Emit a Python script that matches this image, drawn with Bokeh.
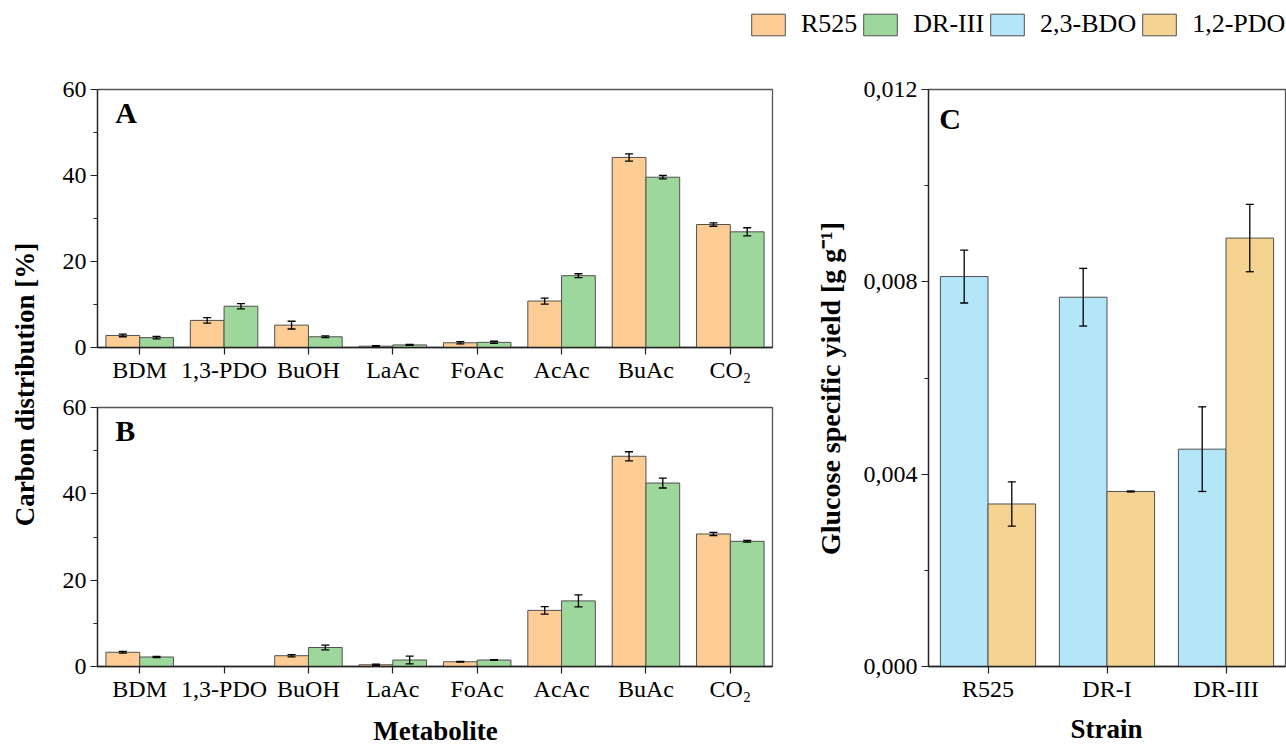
from math import pi
from bokeh.plotting import figure
from bokeh.layouts import row, column
from bokeh.models import (ColumnDataSource, Whisker, TeeHead, FixedTicker, SingleIntervalTicker,
                          CustomJSTickFormatter, Label, Legend, LegendItem, Range1d)
from bokeh.embed import file_html
from bokeh.resources import INLINE

# ---------------- data ----------------
metabolites = ["BDM", "1,3-PDO", "BuOH", "LaAc", "FoAc", "AcAc", "BuAc", "CO₂"]
series_ab = ["R525", "DR-III"]

a_r525 = [2.8, 6.3, 5.2, 0.3, 1.1, 10.8, 44.2, 28.6]
a_r525_err = [0.3, 0.65, 0.9, 0.15, 0.25, 0.7, 0.85, 0.4]
a_dr3 = [2.3, 9.6, 2.5, 0.6, 1.2, 16.7, 39.6, 26.9]
a_dr3_err = [0.3, 0.6, 0.2, 0.1, 0.25, 0.45, 0.4, 0.95]

b_r525 = [3.3, 0.0, 2.5, 0.4, 1.1, 13.0, 48.7, 30.7]
b_r525_err = [0.2, 0.0, 0.25, 0.15, 0.1, 0.85, 1.05, 0.35]
b_dr3 = [2.2, 0.0, 4.4, 1.5, 1.5, 15.2, 42.5, 29.0]
b_dr3_err = [0.15, 0.0, 0.55, 0.9, 0.1, 1.4, 1.15, 0.2]

strains = ["R525", "DR-I", "DR-III"]
series_c = ["2,3-BDO", "1,2-PDO"]
bdo = [0.00811, 0.00768, 0.00452]
bdo_err = [0.00055, 0.0006, 0.00088]
pdo = [0.00338, 0.00364, 0.00891]
pdo_err = [0.00046, 0.00001, 0.0007]

# ---------------- style ----------------
FONT = "Liberation Serif"
C_R525 = "#FECD96"
C_DR3 = "#9DD79C"
C_BDO = "#B4E6FA"
C_PDO = "#F5D491"
BAR_LINE = "#505050"
AX = "#222222"


def base_fig(**kw):
    p = figure(output_backend="svg", toolbar_location=None, **kw)
    p.grid.visible = False
    p.outline_line_color = "#555555"
    p.outline_line_width = 1.3
    p.background_fill_color = "white"
    p.border_fill_color = "white"
    return p


def blank_fig(w, h, yspan=None):
    p = figure(width=w, height=h, x_range=Range1d(0, w), y_range=Range1d(0, yspan or h),
               x_axis_type=None, y_axis_type=None, output_backend="svg",
               toolbar_location=None, min_border=0)
    p.grid.visible = False
    p.outline_line_color = None
    return p


def title_label(x, y, text, rotated=False, size="27px"):
    kw = dict(angle=pi / 2, text_align="center", text_baseline="middle") if rotated else \
        dict(text_align="center", text_baseline="alphabetic")
    return Label(x=x, y=y, text=text, text_font=FONT, text_font_size=size,
                 text_font_style="bold", text_color="black", **kw)


def style_axis(ax):
    ax.axis_line_color = AX
    ax.axis_line_width = 1.3
    ax.major_tick_line_color = AX
    ax.minor_tick_line_color = AX
    ax.major_tick_line_width = 1.2
    ax.minor_tick_line_width = 1.0
    ax.major_tick_out = 7
    ax.major_tick_in = 0
    ax.minor_tick_out = 4
    ax.minor_tick_in = 0
    ax.major_label_text_font = FONT
    ax.major_label_text_font_size = "24px"
    ax.major_label_text_color = "black"
    ax.major_label_standoff = 4


def add_bars(p, xs, vals, errs, offset, color):
    x = [v + offset for v in xs]
    src = ColumnDataSource(dict(x=x, top=vals))
    r = p.vbar(x="x", top="top", width=0.4, source=src, fill_color=color,
               line_color=BAR_LINE, line_width=1)
    keep = [i for i, v in enumerate(vals) if v > 0]
    wsrc = ColumnDataSource(dict(
        x=[x[i] for i in keep],
        upper=[vals[i] + errs[i] for i in keep],
        lower=[vals[i] - errs[i] for i in keep]))
    w = Whisker(source=wsrc, base="x", upper="upper", lower="lower", level="overlay",
                line_color="black", line_width=1.3,
                upper_head=TeeHead(size=8, line_color="black", line_width=1.3),
                lower_head=TeeHead(size=8, line_color="black", line_width=1.3))
    p.add_layout(w)
    return r


def metabolite_panel(letter, r525, r525_err, dr3, dr3_err, height, top, bottom):
    p = base_fig(width=752, height=height, x_range=Range1d(0.5, len(metabolites) + 0.5),
                 y_range=Range1d(0, 60), min_border_left=49, min_border_right=28,
                 min_border_top=top, min_border_bottom=bottom)
    xs = list(range(1, len(metabolites) + 1))
    add_bars(p, xs, r525, r525_err, -0.2, C_R525)
    add_bars(p, xs, dr3, dr3_err, 0.2, C_DR3)
    p.xaxis.ticker = FixedTicker(ticks=xs)
    p.xaxis.major_label_overrides = {x: m for x, m in zip(xs, metabolites)}
    p.yaxis.ticker = SingleIntervalTicker(interval=20, num_minor_ticks=2)
    style_axis(p.xaxis[0])
    style_axis(p.yaxis[0])
    p.xaxis.major_label_standoff = 2
    p.add_layout(Label(x=0.71, y=58.6, text=letter, text_font=FONT, text_font_size="30px",
                       text_font_style="bold", text_baseline="top", text_color="black"))
    return p


figA = metabolite_panel("A", a_r525, a_r525_err, a_dr3, a_dr3_err, 324, 21, 45)
figB = metabolite_panel("B", b_r525, b_r525_err, b_dr3, b_dr3_err, 320, 15, 46)

# ---------------- panel C ----------------
figC = base_fig(width=430, height=644, x_range=Range1d(0.5, len(strains) + 0.5),
                y_range=Range1d(0, 0.012), min_border_left=72, min_border_right=1,
                min_border_top=21, min_border_bottom=46)
xs_c = list(range(1, len(strains) + 1))
add_bars(figC, xs_c, bdo, bdo_err, -0.2, C_BDO)
add_bars(figC, xs_c, pdo, pdo_err, 0.2, C_PDO)
figC.xaxis.ticker = FixedTicker(ticks=xs_c)
figC.xaxis.major_label_overrides = {x: s for x, s in zip(xs_c, strains)}
figC.yaxis.ticker = SingleIntervalTicker(interval=0.004, num_minor_ticks=2)
figC.yaxis.formatter = CustomJSTickFormatter(code="return tick.toFixed(3).replace('.', ',');")
style_axis(figC.xaxis[0])
style_axis(figC.yaxis[0])
figC.xaxis.major_label_standoff = 2
figC.add_layout(Label(x=0.59, y=0.01173, text="C", text_font=FONT, text_font_size="30px",
                      text_font_style="bold", text_baseline="top", text_color="black"))

# ---------------- axis titles ----------------
# the strips in the row share panel C's frame (577 px tall); y counts up from its bottom
ylab = blank_fig(48, 644, yspan=577)
ylab.add_layout(title_label(24, 282, "Carbon distribution [%]", rotated=True))
ylabC = blank_fig(56, 644, yspan=577)
ylabC.add_layout(title_label(30, 278, "Glucose specific yield [g g⁻¹]", rotated=True, size="28px"))
xlab = blank_fig(1286, 40)
xlab.add_layout(title_label(435, 22, "Metabolite"))
xlab.add_layout(title_label(1106, 24, "Strain"))

# ---------------- legend strip ----------------
lg = blank_fig(1286, 68)
items = []
for name, col in zip(series_ab + series_c, [C_R525, C_DR3, C_BDO, C_PDO]):
    # off-screen proxy renderer: only its style feeds the legend swatch
    rr = lg.vbar(x=[5000], top=[1], width=1, fill_color=col, line_color=BAR_LINE, line_width=1)
    items.append(LegendItem(label=name, renderers=[rr]))
legend = Legend(items=items, orientation="horizontal", location=(747, 29), padding=0,
                spacing=2, margin=0, glyph_width=42, glyph_height=27, label_standoff=12,
                border_line_color=None, background_fill_alpha=0, label_text_font=FONT,
                label_text_font_size="26px", label_text_color="black")
lg.add_layout(legend)

layout = column(lg, row(ylab, column(figA, figB), ylabC, figC), xlab)

open("out.html", "w").write(file_html(layout, INLINE))
